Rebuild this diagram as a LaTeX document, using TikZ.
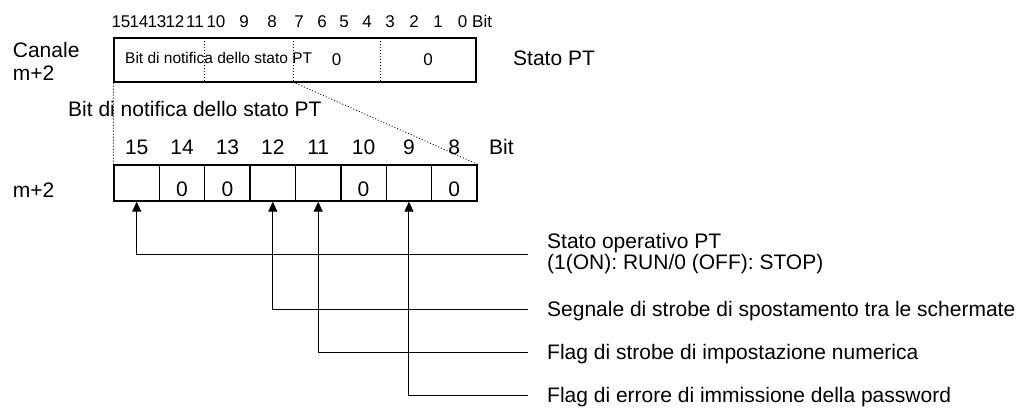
\documentclass[tikz,border=0pt]{standalone}
\usepackage{fontspec}
\setmainfont{Liberation Sans}
\usetikzlibrary{arrows.meta}
\newcommand{\cz}{\raisebox{-13pt}[0pt][0pt]{0}}
\begin{document}
\begin{tikzpicture}[x=1pt,y=-1pt,
  big/.style={font=\fontsize{21}{23.3}\selectfont, inner sep=0pt},
  mid/.style={font=\fontsize{17}{19}\selectfont, inner sep=0pt},
  sml/.style={font=\fontsize{15.5}{18}\selectfont, inner sep=0pt},
  reg/.style={draw, line width=1.2pt, inner sep=0pt},
  cell/.style={draw, line width=1.3pt, minimum width=45.375pt, minimum height=36pt, inner sep=0pt, font=\fontsize{21}{23.3}\selectfont},
  dots/.style={line width=0.8pt, dash pattern=on 1pt off 2pt},
  conn/.style={line width=1pt, -{Triangle[length=10pt,width=9pt]}}]
\useasboundingbox (0,0) rectangle (1033,408);

% top register
\node[reg, minimum width=362pt, minimum height=44pt] (topreg) at (295,60) {};
\draw[dots] (204,38) -- (204,82);
\draw[dots] (293,38) -- (293,82);
\draw[dots] (380,38) -- (380,82);
\foreach \i/\x in {15/121,14/139,13/157,12/175,11/195,10/216,9/244,8/272,7/299,6/322,5/344,4/367,3/390,2/414,1/438,0/462.5}
  \node[mid, anchor=base] (tb\i) at (\x,27) {\i};
\node[mid, anchor=base west] (tbit) at (472,27) {Bit};
\node[sml, anchor=base west] (inner) at (125,63.3) {Bit di notifica dello stato PT};
\node[mid, anchor=base] (z1) at (336.5,65) {0};
\node[mid, anchor=base] (z2) at (428,65) {0};
\node[big, align=left, anchor=north west] (canale) at (12.7,41.7) {Canale\\m+2};
\node[big, anchor=base west] (stato) at (513,65) {Stato PT};

% lower label
\node[big, anchor=base west] (notif) at (68,116.7) {Bit di notifica dello stato PT};

% bottom register
\node[cell] (c15) at (136.69,183) {};
\node[cell] (c14) at (182.06,183) {\cz};
\node[cell] (c13) at (227.44,183) {\cz};
\node[cell] (c12) at (272.81,183) {};
\node[cell] (c11) at (318.19,183) {};
\node[cell] (c10) at (363.56,183) {\cz};
\node[cell] (c9)  at (408.94,183) {};
\node[cell] (c8)  at (454.31,183) {\cz};
\foreach \i/\x in {15/136.69,14/182.06,13/227.44,12/272.81,11/318.19,10/363.56,9/408.94,8/454.31}
  \node[big, anchor=base] (bn\i) at (\x,154) {\i};
\node[big, anchor=base west] (bbit) at (489,154) {Bit};
\node[big, anchor=base west] (mlow) at (12.7,197) {m+2};

% dotted links
\draw[dots] (topreg.south west) -- (c15.north west);
\coordinate (t8) at (293,82);
\draw[dots] (t8) -- (c8.north east);

% descriptions
\node[big, align=left, anchor=north west, font=\fontsize{21}{21.5}\selectfont] (l1) at (547,233) {Stato operativo PT\\(1(ON): RUN/0 (OFF): STOP)};
\node[big, anchor=base west] (l2) at (547,316.3) {Segnale di strobe di spostamento tra le schermate};
\node[big, anchor=base west] (l3) at (547,359.8) {Flag di strobe di impostazione numerica};
\node[big, anchor=base west] (l4) at (547,402.8) {Flag di errore di immissione della password};

\coordinate (e1) at (528,254);
\coordinate (e2) at (528,309.3);
\coordinate (e3) at (528,352.3);
\coordinate (e4) at (528,395.3);
\draw[conn] (e1) -| (c15.south);
\draw[conn] (e2) -| (c12.south);
\draw[conn] (e3) -| (c11.south);
\draw[conn] (e4) -| (c9.south);
\end{tikzpicture}
\end{document}
